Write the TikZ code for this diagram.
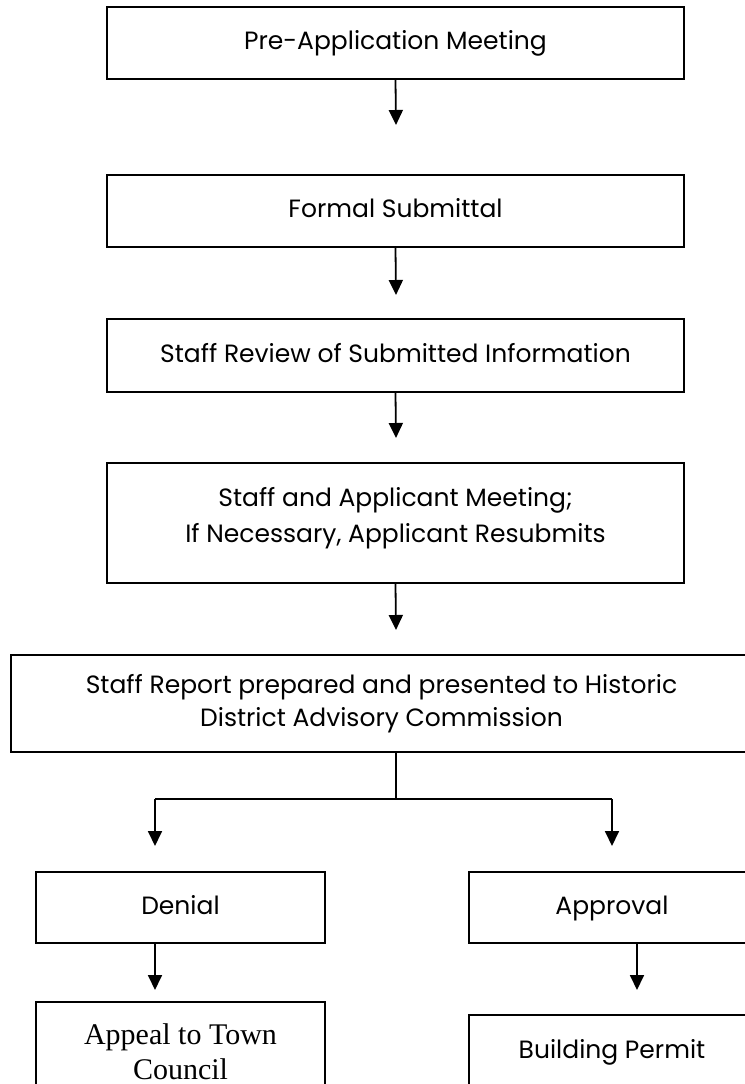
\documentclass[tikz,border=0pt]{standalone}
\usepackage{fontspec}
\setmainfont{Poppins}
\newfontfamily\serifbox{Liberation Serif}
\usetikzlibrary{arrows.meta}

\tikzset{
  stage/.style={draw,line width=1pt,align=center,inner sep=0pt,
    font=\fontsize{12.5}{18}\selectfont},
  oneline/.style={text height=9pt,text depth=2.5pt},
  flow/.style={-{Triangle[length=7.5pt,width=7pt]},line width=0.9pt}
}

\begin{document}
\begin{tikzpicture}[x=0.5pt,y=-0.5pt]
\clip (0,0) rectangle (745,1084);
% main column
\node[stage,oneline,minimum width=288.5pt,minimum height=36pt] (pre) at (395.5,43) {Pre-Application Meeting};
\node[stage,oneline,minimum width=288.5pt,minimum height=36pt] (formal) at (395.5,211) {Formal Submittal};
\node[stage,oneline,minimum width=288.5pt,minimum height=36.5pt] (review) at (395.5,355.5) {Staff Review of Submitted Information};
\node[stage,minimum width=288.5pt,minimum height=60pt] (meet) at (395.5,523) {Staff and Applicant Meeting;\\If Necessary, Applicant Resubmits\\[-10pt]};
\node[stage,minimum width=370.5pt,minimum height=48.5pt,font=\fontsize{12.5}{16.5}\selectfont] (report) at (381.5,703.5) {Staff Report prepared and presented to Historic\\District Advisory Commission};
% two branches
\node[stage,oneline,minimum width=144.5pt,minimum height=35.5pt] (denial) at (180.5,907.5) {Denial};
\node[stage,minimum width=144.5pt,minimum height=50pt,font=\serifbox\fontsize{15}{17.5}\selectfont] (appeal) at (180.5,1052) {Appeal to Town\\Council};
\node[stage,oneline,minimum width=143pt,minimum height=35.5pt] (approval) at (612,907.5) {Approval};
\node[stage,oneline,minimum width=143pt,minimum height=37pt] (permit) at (612,1052) {Building Permit};

\coordinate (t1) at (396,125);
\coordinate (t2) at (396,295);
\coordinate (t3) at (396,438);
\coordinate (t4) at (396,630);
\coordinate (split) at (396,799);
\coordinate (lt) at (155,799);
\coordinate (rt) at (612,799);
\coordinate (t5) at (155,846);
\coordinate (t6) at (612,846);
\coordinate (t7) at (155,990);
\coordinate (t8) at (637,990);

\draw[flow] (pre.south) -- (t1);
\draw[flow] (formal.south) -- (t2);
\draw[flow] (review.south) -- (t3);
\draw[flow] (meet.south) -- (t4);
\draw[line width=0.9pt] (report.south -| split) -- (split);
\draw[line width=0.9pt] (lt) -- (rt);
\draw[flow] (lt) -- (t5);
\draw[flow] (rt) -- (t6);
\draw[flow] (denial.south -| t7) -- (t7);
\draw[flow] (approval.south -| t8) -- (t8);
\end{tikzpicture}
\end{document}
